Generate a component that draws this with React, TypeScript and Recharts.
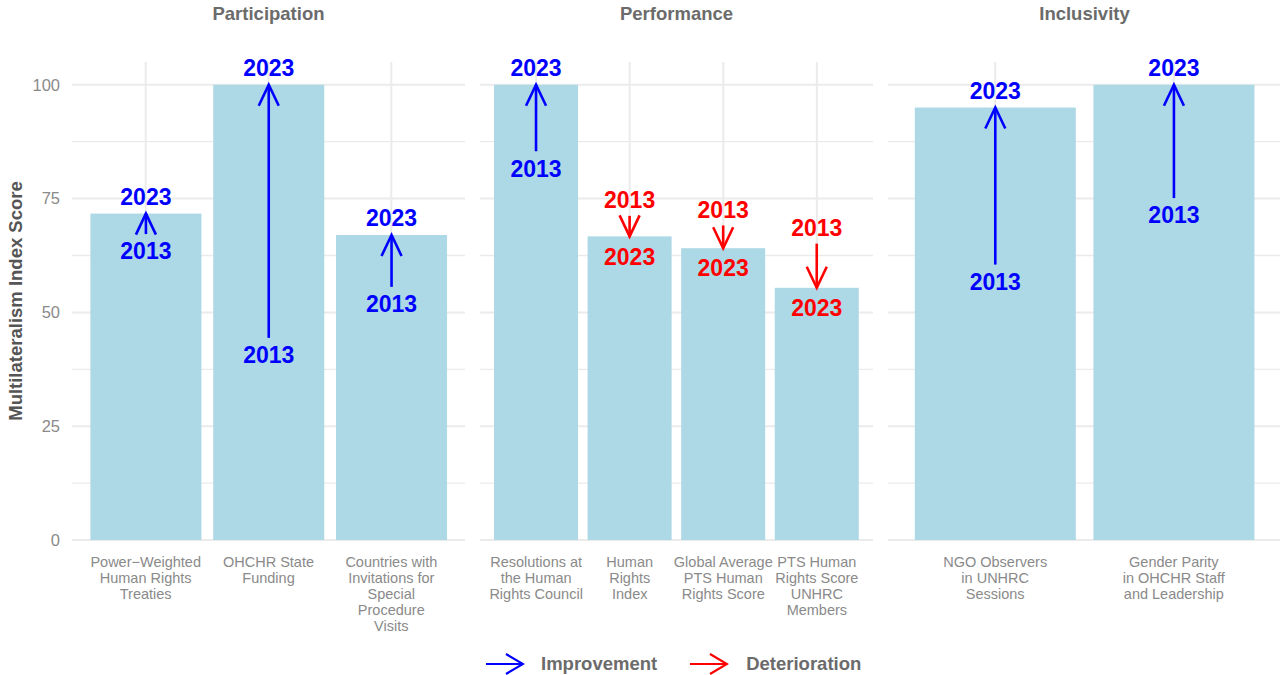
import React from "react";
import { BarChart, Bar, XAxis, YAxis, CartesianGrid } from "recharts";

// values (index score, 2013 -> 2023)
const participationNames = [
  "Power\u2212Weighted\nHuman Rights\nTreaties",
  "OHCHR State\nFunding",
  "Countries with\nInvitations for\nSpecial\nProcedure\nVisits",
];
const participation2013 = [67.2, 44.4, 55.6];
const participation2023 = [71.7, 100, 67.0];

const performanceNames = [
  "Resolutions at\nthe Human\nRights Council",
  "Human\nRights\nIndex",
  "Global Average\nPTS Human\nRights Score",
  "PTS Human\nRights Score\nUNHRC\nMembers",
];
const performance2013 = [85.4, 71.2, 69.1, 65.1];
const performance2023 = [100, 66.7, 64.1, 55.4];

const inclusivityNames = [
  "NGO Observers\nin UNHRC\nSessions",
  "Gender Parity\nin OHCHR Staff\nand Leadership",
];
const inclusivity2013 = [60.5, 75.1];
const inclusivity2023 = [95.0, 100];

const yTicks = [0, 25, 50, 75, 100];
const yMinor = [12.5, 37.5, 62.5, 87.5];

const FONT = "'Liberation Sans', Arial, Helvetica, sans-serif";
const UP = "#0000FF";
const DOWN = "#FF0000";
const BAR_FILL = "#ADD8E6";
const GRID = "#EBEBEB";

const PANEL_W = 393;
const CHART_H = 660;
const TOP = 62;
const AXIS_H = 120;

const toRows = (names: string[], a: number[], b: number[]) =>
  names.map((name, i) => ({ name, v2013: a[i], v2023: b[i] }));

const ArrowBar = (props: any) => {
  const { x, y, width, height, payload } = props;
  const base = y + height;
  const perUnit = height / payload.v2023;
  const yEnd = y;
  const yStart = base - payload.v2013 * perUnit;
  const up = payload.v2023 >= payload.v2013;
  const color = up ? UP : DOWN;
  const cx = x + width / 2;
  const dir = up ? -1 : 1;
  const armBack = 21;
  const armSide = 10;
  const labelStyle = {
    fontFamily: FONT,
    fontWeight: 700,
    fontSize: 23,
  };
  const endLabelY = up ? yEnd - 17 : yEnd + 20;
  const startLabelY = up ? yStart + 17 : yStart - 16;
  return (
    <g>
      <rect x={x} y={y} width={width} height={height} fill={BAR_FILL} />
      <line x1={cx} y1={yStart} x2={cx} y2={yEnd} stroke={color} strokeWidth={2.6} />
      <polyline
        points={`${cx - armSide},${yEnd - dir * armBack} ${cx},${yEnd} ${cx + armSide},${yEnd - dir * armBack}`}
        fill="none"
        stroke={color}
        strokeWidth={2.6}
      />
      <text x={cx} y={endLabelY} dy="0.36em" textAnchor="middle" fill={color} style={labelStyle}>
        2023
      </text>
      <text x={cx} y={startLabelY} dy="0.36em" textAnchor="middle" fill={color} style={labelStyle}>
        2013
      </text>
    </g>
  );
};

const MultiLineTick = (props: any) => {
  const { x, y, payload } = props;
  const lines = String(payload.value).split("\n");
  return (
    <text x={x} y={y} textAnchor="middle" fill="#8a8a8a" style={{ fontFamily: FONT, fontSize: 14.5 }}>
      {lines.map((l, i) => (
        <tspan key={i} x={x} dy={i === 0 ? 27 : 16}>
          {l}
        </tspan>
      ))}
    </text>
  );
};

interface PanelProps {
  rows: { name: string; v2013: number; v2023: number }[];
  showY: boolean;
  left: number;
}

const Panel: React.FC<PanelProps> = ({ rows, showY, left }) => {
  const n = rows.length;
  const pad = (0.1 * PANEL_W) / (n + 0.2);
  const yW = showY ? 72 : 0;
  return (
    <div style={{ position: "absolute", left, top: 0 }}>
      <BarChart
        width={PANEL_W + yW}
        height={CHART_H}
        data={rows}
        margin={{ top: TOP, right: 0, bottom: 0, left: 0 }}
        barCategoryGap="5%"
      >
        <CartesianGrid
          horizontalValues={yMinor}
          vertical={false}
          syncWithTicks
          stroke={GRID}
          strokeWidth={1.3}
        />
        <CartesianGrid horizontalValues={yTicks} syncWithTicks stroke={GRID} strokeWidth={2} />
        <XAxis
          dataKey="name"
          axisLine={false}
          tickLine={false}
          tickSize={0}
          tickMargin={0}
          interval={0}
          height={AXIS_H}
          padding={{ left: pad, right: pad }}
          tick={<MultiLineTick />}
        />
        <YAxis
          domain={[0, 105]}
          ticks={yTicks}
          hide={!showY}
          width={yW}
          axisLine={false}
          tickLine={false}
          tickSize={0}
          tickMargin={12}
          tick={{ fill: "#8a8a8a", fontSize: 16.5, fontFamily: FONT }}
        />
        <Bar dataKey="v2023" shape={<ArrowBar />} isAnimationActive={false} />
      </BarChart>
    </div>
  );
};

const stripStyle = (cx: number): React.CSSProperties => ({
  position: "absolute",
  left: cx - 100,
  width: 200,
  top: 3,
  textAlign: "center",
  fontFamily: FONT,
  fontWeight: 700,
  fontSize: 18.5,
  color: "#6b6b6b",
});

const LegendArrow: React.FC<{ color: string }> = ({ color }) => (
  <svg width={40} height={24} style={{ display: "block" }}>
    <line x1={1} y1={12} x2={38} y2={12} stroke={color} strokeWidth={2.2} />
    <polyline points="21,2 38,12 21,22" fill="none" stroke={color} strokeWidth={2.2} />
  </svg>
);

const legendText: React.CSSProperties = {
  fontFamily: FONT,
  fontWeight: 700,
  fontSize: 18.5,
  color: "#6b6b6b",
};

export default function App() {
  const panels = [
    { title: "Participation", rows: toRows(participationNames, participation2013, participation2023), left: 0, showY: true },
    { title: "Performance", rows: toRows(performanceNames, performance2013, performance2023), left: 480, showY: false },
    { title: "Inclusivity", rows: toRows(inclusivityNames, inclusivity2013, inclusivity2023), left: 888, showY: false },
  ];
  return (
    <div
      style={{
        position: "absolute",
        left: 0,
        top: 0,
        width: 1280,
        height: 675,
        overflow: "hidden",
        background: "#fff",
      }}
    >
      {panels.map((p) => (
        <Panel key={p.title} rows={p.rows} showY={p.showY} left={p.left} />
      ))}
      {panels.map((p) => (
        <div key={p.title + "-t"} style={stripStyle(p.left + (p.showY ? 72 : 0) + PANEL_W / 2)}>
          {p.title}
        </div>
      ))}
      <div
        style={{
          position: "absolute",
          left: 16 - 200,
          top: 301 - 12,
          width: 400,
          textAlign: "center",
          transform: "rotate(-90deg)",
          fontFamily: FONT,
          fontWeight: 700,
          fontSize: 18.5,
          color: "#555",
          lineHeight: "24px",
        }}
      >
        Multilateralism Index Score
      </div>
      <div
        style={{
          position: "absolute",
          left: 485,
          top: 652,
          display: "flex",
          alignItems: "center",
        }}
      >
        <LegendArrow color={UP} />
        <span style={{ ...legendText, marginLeft: 16 }}>Improvement</span>
        <span style={{ width: 32 }} />
        <LegendArrow color={DOWN} />
        <span style={{ ...legendText, marginLeft: 17 }}>Deterioration</span>
      </div>
    </div>
  );
}
